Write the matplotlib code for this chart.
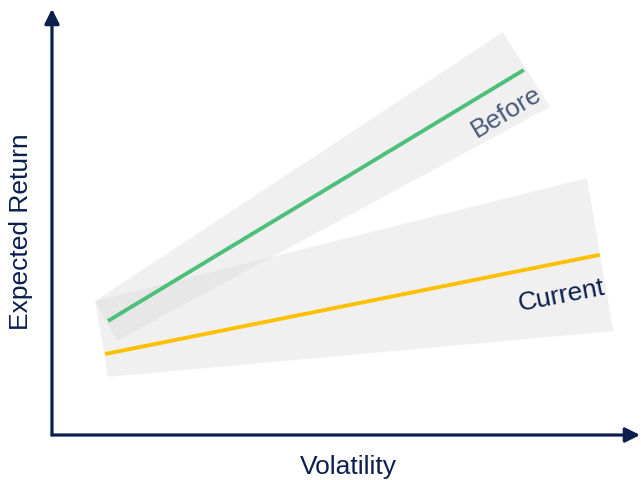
import matplotlib.pyplot as plt
from matplotlib.patches import Polygon

# chart units: axis corner is (0, 0), both axes run to about 100
before_line_x = [9.6, 80.8]
before_line_y = [26.9, 86.1]
current_line_x = [9.1, 93.8]
current_line_y = [19.1, 42.5]

# shaded uncertainty bands (corner points)
before_band_x = [7.4, 77.2, 85.3, 11.1]
before_band_y = [31.6, 95.0, 77.4, 22.2]
current_band_x = [7.4, 91.6, 96.1, 9.6]
current_band_y = [31.6, 60.6, 24.5, 13.7]

navy = '#0b1f4f'
green = '#4cbf78'
yellow = '#ffc000'

plt.rcParams['font.family'] = ['Liberation Sans', 'DejaVu Sans']

fig = plt.figure(figsize=(6.41, 4.81), dpi=100)
ax = fig.add_axes([0, 0, 1, 1])
ax.set_xlim(-8.9, 100.86)
ax.set_ylim(-10.61, 102.83)
ax.axis('off')

for bx, by in [(before_band_x, before_band_y), (current_band_x, current_band_y)]:
    ax.add_patch(Polygon(list(zip(bx, by)), closed=True, facecolor='#dadada',
                         alpha=0.38, edgecolor='none', zorder=1))

ax.plot(before_line_x, before_line_y, color=green, lw=2.8, solid_capstyle='butt', zorder=3)
ax.plot(current_line_x, current_line_y, color=yellow, lw=2.8, solid_capstyle='butt', zorder=3)

# axis arrows
arrow = dict(arrowstyle='-|>', lw=2.3, color=navy, mutation_scale=22, shrinkA=0, shrinkB=0)
ax.annotate('', xy=(0, 100.5), xytext=(0, 0), arrowprops=arrow)
ax.annotate('', xy=(100.7, 0), xytext=(0, 0), arrowprops=arrow)

ax.text(-5.3, 48.1, 'Expected Return', rotation=90, ha='center', va='center',
        fontsize=19, color=navy)
ax.text(50.7, -7.3, 'Volatility', ha='center', va='center', fontsize=19, color=navy)
ax.text(77.9, 76.5, 'Before', rotation=31, ha='center', va='center',
        fontsize=19, color='#4a5a7c', rotation_mode='anchor')
ax.text(87.3, 33.0, 'Current', rotation=11, ha='center', va='center',
        fontsize=19, color=navy, rotation_mode='anchor')

fig.savefig('out.png', dpi=100)
